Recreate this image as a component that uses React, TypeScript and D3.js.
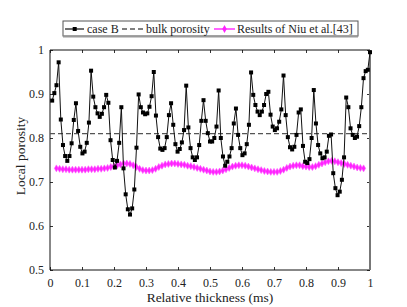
import React, {useEffect, useRef} from 'react';
import * as d3 from 'd3';

// case B local porosity, read left to right (evenly spaced samples)
const caseB = [
  0.885, 0.902, 0.920, 0.972, 0.842, 0.784, 0.759, 0.748, 0.759, 0.788,
  0.841, 0.879, 0.816, 0.780, 0.765, 0.769, 0.789, 0.835, 0.953, 0.894,
  0.870, 0.856, 0.848, 0.855, 0.870, 0.898, 0.880, 0.795, 0.750,
  0.733, 0.748, 0.789, 0.870, 0.731, 0.672, 0.638, 0.626, 0.640, 0.683, 0.778,
  0.899, 0.870, 0.858, 0.854, 0.856, 0.871, 0.895, 0.950, 0.851, 0.802,
  0.776, 0.773, 0.777, 0.802, 0.852, 0.879, 0.830, 0.786, 0.769,
  0.775, 0.790, 0.818, 0.919, 0.824, 0.777, 0.756, 0.750, 0.756, 0.784,
  0.839, 0.886, 0.839, 0.811, 0.792, 0.792, 0.800, 0.826, 0.908, 0.800,
  0.758, 0.737, 0.746, 0.758, 0.777, 0.833, 0.867, 0.807, 0.777, 0.761,
  0.765, 0.786, 0.830, 0.949, 0.898, 0.875, 0.860, 0.852, 0.860, 0.875,
  0.900, 0.905, 0.853, 0.826, 0.818, 0.822, 0.837, 0.865, 0.942, 0.852,
  0.802, 0.779, 0.774, 0.780, 0.807, 0.858, 0.865, 0.782,
  0.746, 0.743, 0.752, 0.800, 0.909, 0.833, 0.784, 0.765, 0.754, 0.756,
  0.769, 0.805, 0.808, 0.720, 0.686, 0.670, 0.678, 0.705, 0.756, 0.892,
  0.870, 0.822, 0.807, 0.800, 0.803, 0.827, 0.870, 0.936, 0.952, 0.955, 0.995,
];

const bulkPorosity = 0.81;

// Niu et al. [43], x from 0.02 to 0.98 in steps of 0.01
const niuStart = 0.02;
const niuStep = 0.01;
const niu = [
  0.731, 0.730, 0.729, 0.729, 0.728, 0.728, 0.728, 0.728, 0.728, 0.728,
  0.729, 0.729, 0.729, 0.730, 0.730, 0.731, 0.732, 0.734, 0.736,
  0.738, 0.740, 0.742, 0.742, 0.741, 0.738, 0.734, 0.730, 0.727, 0.726,
  0.726, 0.727, 0.730, 0.734, 0.737, 0.740, 0.741, 0.742, 0.742, 0.741,
  0.740, 0.739, 0.737, 0.736, 0.734, 0.732, 0.730, 0.728, 0.726, 0.724,
  0.723, 0.723, 0.724, 0.726, 0.729, 0.732, 0.735, 0.737, 0.738, 0.738,
  0.737, 0.735, 0.733, 0.731, 0.729, 0.727, 0.725, 0.724, 0.723, 0.723,
  0.723, 0.725, 0.728, 0.732, 0.735, 0.737, 0.738, 0.738, 0.736, 0.735,
  0.734, 0.734, 0.736, 0.739, 0.742, 0.745, 0.747, 0.748, 0.747, 0.745,
  0.743, 0.741, 0.739, 0.737, 0.735, 0.733, 0.732, 0.731,
];

const xTicks = [0, 0.1, 0.2, 0.3, 0.4, 0.5, 0.6, 0.7, 0.8, 0.9, 1];
const yTicks = [0.5, 0.6, 0.7, 0.8, 0.9, 1];

const legendLabels = ['case B', 'bulk porosity', 'Results of Niu et al.[43]'];

function App() {
  const chartRef = useRef(null);

  const W = 407;
  const H = 307;
  const margin = {top: 50, right: 37, bottom: 37, left: 50};
  const width = W - margin.left - margin.right;
  const height = H - margin.top - margin.bottom;
  const font = "'Liberation Serif', 'Times New Roman', Times, serif";

  const xScale = d3.scaleLinear().domain([0, 1]).range([0, width]);
  const yScale = d3.scaleLinear().domain([0.5, 1]).range([height, 0]);

  useEffect(() => {
    const svg = d3.select(chartRef.current);
    svg.selectAll('*').remove();

    const g = svg.append('g')
      .attr('transform', `translate(${margin.left},${margin.top})`);

    const fmt = (d: any) => String(d);

    // axes with inward ticks
    g.append('g')
      .attr('transform', `translate(0,${height})`)
      .call(d3.axisBottom(xScale).tickValues(xTicks).tickSize(-3).tickPadding(8).tickFormat(fmt as any))
      .call((a: any) => a.select('.domain').remove());
    g.append('g')
      .call(d3.axisLeft(yScale).tickValues(yTicks).tickSize(-3).tickPadding(6).tickFormat(fmt as any))
      .call((a: any) => a.select('.domain').remove());
    g.append('g')
      .call(d3.axisTop(xScale).tickValues(xTicks).tickSize(-3).tickFormat('' as any))
      .call((a: any) => a.select('.domain').remove());
    g.append('g')
      .attr('transform', `translate(${width},0)`)
      .call(d3.axisRight(yScale).tickValues(yTicks).tickSize(-3).tickFormat('' as any))
      .call((a: any) => a.select('.domain').remove());

    g.selectAll('g').attr('font-family', null);
    g.selectAll('.tick text')
      .style('font-family', font)
      .style('font-size', '12px')
      .attr('fill', '#222');
    g.selectAll('.tick line').attr('stroke', '#333');

    // frame
    g.append('path')
      .attr('d', `M${width},0H0V${height}H${width}`)
      .attr('fill', 'none')
      .attr('stroke', '#111')
      .attr('stroke-width', 1);
    g.append('line')
      .attr('x1', width).attr('x2', width)
      .attr('y1', 0).attr('y2', height)
      .attr('stroke', '#777')
      .attr('stroke-width', 2);

    // bulk porosity
    g.append('line')
      .attr('x1', 0).attr('x2', width)
      .attr('y1', yScale(bulkPorosity)).attr('y2', yScale(bulkPorosity))
      .attr('stroke', '#555')
      .attr('stroke-width', 1.3)
      .attr('stroke-dasharray', '5,3');

    // Niu et al.
    const niuData = niu.map((v, i) => ({x: niuStart + i * niuStep, y: v}));
    const line = d3.line<any>().x(d => xScale(d.x)).y(d => yScale(d.y));
    g.append('path')
      .datum(niuData)
      .attr('d', line)
      .attr('fill', 'none')
      .attr('stroke', '#ff33ff')
      .attr('stroke-width', 1.5);
    const diamond = d3.symbol().type(d3.symbolDiamond).size(14);
    g.selectAll('.niu')
      .data(niuData)
      .enter()
      .append('path')
      .attr('class', 'niu')
      .attr('transform', d => `translate(${xScale(d.x)},${yScale(d.y)})`)
      .attr('d', diamond() as string)
      .attr('fill', '#ff22ff')
      .attr('stroke', '#ff55ff')
      .attr('stroke-width', 0.6);

    // case B
    const n = caseB.length;
    const caseData = caseB.map((v, i) => ({x: (i + 1) / n, y: v}));
    g.append('path')
      .datum(caseData)
      .attr('d', line)
      .attr('fill', 'none')
      .attr('stroke', '#111')
      .attr('stroke-width', 1);
    g.selectAll('.caseb')
      .data(caseData)
      .enter()
      .append('rect')
      .attr('class', 'caseb')
      .attr('x', d => xScale(d.x) - 2)
      .attr('y', d => yScale(d.y) - 2)
      .attr('width', 4)
      .attr('height', 4)
      .attr('fill', '#000');

    // axis labels
    svg.append('text')
      .attr('x', margin.left + width / 2)
      .attr('y', 302)
      .attr('text-anchor', 'middle')
      .style('font-family', font)
      .style('font-size', '13.5px')
      .attr('fill', '#222')
      .text('Relative thickness (ms)');
    svg.append('text')
      .attr('transform', `translate(25,${margin.top + height / 2 - 4}) rotate(-90)`)
      .attr('text-anchor', 'middle')
      .style('font-family', font)
      .style('font-size', '13.5px')
      .attr('fill', '#222')
      .text('Local porosity');

    // legend
    const lg = svg.append('g');
    lg.append('rect')
      .attr('x', 63).attr('y', 21)
      .attr('width', 295).attr('height', 15)
      .attr('fill', '#fff')
      .attr('stroke', '#555')
      .attr('stroke-width', 1);
    lg.append('line')
      .attr('x1', 63).attr('x2', 358)
      .attr('y1', 36.5).attr('y2', 36.5)
      .attr('stroke', '#999')
      .attr('stroke-width', 2);
    const ly = 29;
    lg.append('line')
      .attr('x1', 65).attr('x2', 84).attr('y1', ly).attr('y2', ly)
      .attr('stroke', '#111').attr('stroke-width', 1.2);
    lg.append('rect')
      .attr('x', 72.7).attr('y', ly - 2).attr('width', 4).attr('height', 4)
      .attr('fill', '#000');
    lg.append('line')
      .attr('x1', 122).attr('x2', 144).attr('y1', ly).attr('y2', ly)
      .attr('stroke', '#555').attr('stroke-width', 1.3).attr('stroke-dasharray', '5,3');
    lg.append('line')
      .attr('x1', 214).attr('x2', 235).attr('y1', ly).attr('y2', ly)
      .attr('stroke', '#ff33ff').attr('stroke-width', 1.5);
    lg.append('path')
      .attr('transform', `translate(224.5,${ly})`)
      .attr('d', d3.symbol().type(d3.symbolDiamond).size(18)() as string)
      .attr('fill', '#ff22ff');
    const lx = [87, 146, 237];
    legendLabels.forEach((t, i) => {
      lg.append('text')
        .attr('x', lx[i])
        .attr('y', ly + 4.3)
        .style('font-family', font)
        .style('font-size', '12px')
        .attr('fill', '#222')
        .text(t);
    });
  });

  return (
    <svg ref={chartRef} width={W} height={H}
      style={{position: 'absolute', left: 0, top: 0, background: '#fff'}}/>
  );
}

export default App;
